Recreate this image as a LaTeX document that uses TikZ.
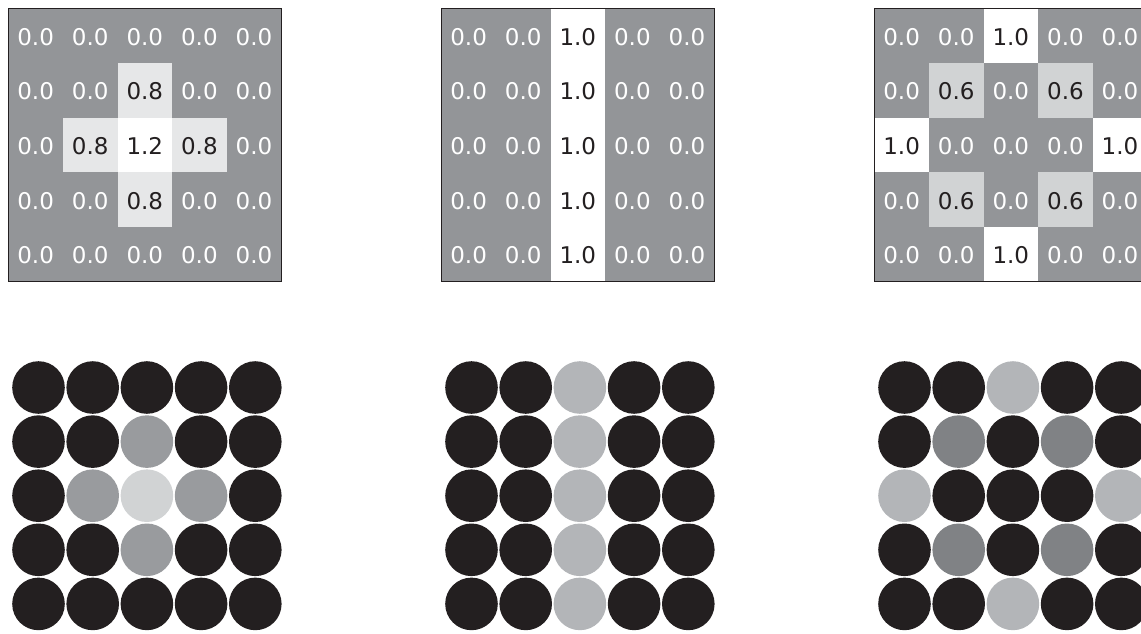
\documentclass[tikz,border=0pt]{standalone}
\usepackage{fontspec}
\setmainfont{DejaVu Sans}
\definecolor{gridgray}{HTML}{939598}
\definecolor{inkdark}{HTML}{231F20}
\definecolor{celle}{HTML}{E6E7E8}
\definecolor{cells}{HTML}{D1D3D4}
\definecolor{dote}{HTML}{999B9E}
\definecolor{dott}{HTML}{D1D3D4}
\definecolor{doto}{HTML}{B3B5B8}
\definecolor{dots}{HTML}{808285}
\tikzset{
  cz/.style={fill=gridgray}, ce/.style={fill=celle}, ct/.style={fill=white},
  co/.style={fill=white}, cs/.style={fill=cells},
  tz/.style={text=white}, te/.style={text=inkdark}, tt/.style={text=inkdark},
  to/.style={text=inkdark}, ts/.style={text=inkdark},
  dz/.style={fill=inkdark}, de/.style={fill=dote}, dt/.style={fill=dott},
  do/.style={fill=doto}, ds/.style={fill=dots},
  celltext/.style={font=\fontsize{23}{23}\selectfont, inner sep=0pt, anchor=center},
  dotnode/.style={circle, minimum size=52.6pt, inner sep=0pt, draw=none},
  frame/.style={draw=inkdark, line width=1pt},
}
\def\labz{0.0}\def\labe{0.8}\def\labt{1.2}\def\labo{1.0}\def\labs{0.6}
\begin{document}
\begin{tikzpicture}[x=1pt,y=-1pt]
\useasboundingbox (0,0) rectangle (1141,633);
\clip (0,0) rectangle (1141,633);
\foreach \gx/\g/\vals in {
  8.3/A/{z,z,z,z,z, z,z,e,z,z, z,e,t,e,z, z,z,e,z,z, z,z,z,z,z},
  441.3/B/{z,z,o,z,z, z,z,o,z,z, z,z,o,z,z, z,z,o,z,z, z,z,o,z,z},
  874.3/C/{z,z,o,z,z, z,s,z,s,z, o,z,z,z,o, z,s,z,s,z, z,z,o,z,z}}{
  \foreach \c [count=\i from 0] in \vals {
    \pgfmathtruncatemacro{\col}{mod(\i,5)}
    \pgfmathtruncatemacro{\row}{int(\i/5)}
    \fill[c\c] ({\gx+54.6*\col},{8.3+54.6*\row}) rectangle +(54.6,54.6);
    \node[celltext, t\c] (\g-t\i) at ({\gx+27.3+54.6*\col},{37+54.6*\row}) {\csname lab\c\endcsname};
    \node[dotnode, d\c] (\g-d\i) at ({\gx+30.2+54.2*\col},{387.5+54.1*\row}) {};
  }
  \draw[frame] (\gx,8.3) rectangle +(273,273);
}
\end{tikzpicture}
\end{document}
